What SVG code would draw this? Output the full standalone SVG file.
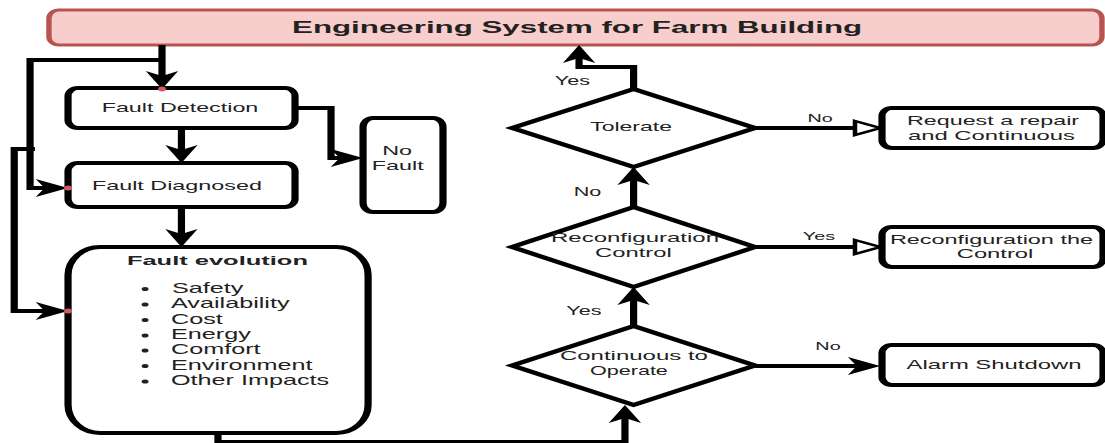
<svg xmlns="http://www.w3.org/2000/svg" width="1105" height="443" viewBox="0 0 1105 443">
  <defs>
    <!-- filled arrowhead with a notch; tip sits 6 units past the path end -->
    <marker id="classic" markerUnits="userSpaceOnUse" markerWidth="18" markerHeight="18" refX="12" refY="9" orient="auto" overflow="visible">
      <path d="M0,0 L18,9 L0,18 L5,9 Z" fill="#000"/>
    </marker>
    <!-- hollow triangle arrowhead; its base sits on the path end -->
    <marker id="block" markerUnits="userSpaceOnUse" markerWidth="16" markerHeight="16" refX="1" refY="8" orient="auto" overflow="visible">
      <path d="M1,1 L15,8 L1,15 Z" fill="#fff" stroke="#000" stroke-width="2.5"/>
    </marker>
  </defs>
  <style>
    .box{fill:#fff;stroke:#000;stroke-width:4}
    .title-box{fill:#f8cecc;stroke:#b85450;stroke-width:3}
    .edge{fill:none;stroke:#000;stroke-width:4;stroke-linejoin:miter}
    .arrow{marker-end:url(#classic)}
    .open{marker-end:url(#block)}
    .dot{fill:#cd5c5c}
    text{font-family:"Liberation Sans",Arial,sans-serif;fill:#222}
    .c{text-anchor:middle}
    .n{font-size:13px}
    .b{font-weight:bold}
    .li{font-size:14px}
    .lbl{font-size:12px;text-anchor:middle}
    .lbl-s{font-size:11px;text-anchor:middle}
  </style>
  <rect width="1105" height="443" fill="#fff"/>
  <!-- the whole chart is drawn 1.8x wider than it is tall -->
  <g transform="scale(1.8,1)">
    <g id="title">
      <rect class="title-box" x="27.2" y="10" width="585" height="35" rx="5.5" ry="8"/>
      <text class="c b" x="320.6" y="33" font-size="17" textLength="316.7" lengthAdjust="spacingAndGlyphs">Engineering System for Farm Building</text>
    </g>

    <g id="fault-detection">
      <rect class="box" x="37.8" y="88" width="126.1" height="40" rx="5.5" ry="8"/>
      <text class="c n" x="100" y="112.5" textLength="87" lengthAdjust="spacingAndGlyphs">Fault Detection</text>
    </g>

    <g id="fault-diagnosed">
      <rect class="box" x="37.8" y="163" width="126.1" height="44" rx="5.5" ry="8"/>
      <text class="c n" x="98.3" y="190" textLength="94.4" lengthAdjust="spacingAndGlyphs">Fault Diagnosed</text>
    </g>

    <g id="no-fault">
      <rect class="box" x="201.7" y="118" width="44.4" height="94" rx="5.5" ry="9"/>
      <text class="c n" x="220.6" y="155">No</text>
      <text class="c n" x="221" y="170">Fault</text>
    </g>

    <g id="fault-evolution">
      <rect class="box" x="37.8" y="247" width="166.7" height="186" rx="17.8" ry="28"/>
      <text class="c b n" x="120.8" y="265" textLength="100.6" lengthAdjust="spacingAndGlyphs">Fault evolution</text>
      <g fill="#222">
        <ellipse cx="80.6" cy="289" rx="1.9" ry="2.1"/>
        <ellipse cx="80.6" cy="304.5" rx="1.9" ry="2.1"/>
        <ellipse cx="80.6" cy="320" rx="1.9" ry="2.1"/>
        <ellipse cx="80.6" cy="335.5" rx="1.9" ry="2.1"/>
        <ellipse cx="80.6" cy="350.5" rx="1.9" ry="2.1"/>
        <ellipse cx="80.6" cy="366" rx="1.9" ry="2.1"/>
        <ellipse cx="80.6" cy="381.5" rx="1.9" ry="2.1"/>
      </g>
      <text class="li" x="95.5" y="293">Safety</text>
      <text class="li" x="95" y="308.5">Availability</text>
      <text class="li" x="95" y="324">Cost</text>
      <text class="li" x="95" y="339.5">Energy</text>
      <text class="li" x="95" y="354.5">Comfort</text>
      <text class="li" x="95" y="370">Environment</text>
      <text class="li" x="95" y="385.5">Other Impacts</text>
    </g>

    <g id="tolerate">
      <polygon class="box" points="352,89 419.5,128 352,167 284.5,128"/>
      <text class="c n" x="350.6" y="130.7" textLength="45.4" lengthAdjust="spacingAndGlyphs">Tolerate</text>
    </g>

    <g id="reconfiguration-control">
      <polygon class="box" points="352,207 419.5,247 352,287 284.5,247"/>
      <text class="c n" x="352.8" y="241.7" textLength="93.3" lengthAdjust="spacingAndGlyphs">Reconfiguration</text>
      <text class="c n" x="351.9" y="256.7" textLength="42.6" lengthAdjust="spacingAndGlyphs">Control</text>
    </g>

    <g id="continuous-to-operate">
      <polygon class="box" points="352,326 419.5,365.5 352,405 284.5,365.5"/>
      <text class="c n" x="352.2" y="360" textLength="82.2" lengthAdjust="spacingAndGlyphs">Continuous to</text>
      <text class="c n" x="349.4" y="375" textLength="43.3" lengthAdjust="spacingAndGlyphs">Operate</text>
    </g>

    <g id="request-repair">
      <rect class="box" x="490" y="108" width="122.8" height="40" rx="5.5" ry="8"/>
      <text class="c n" x="551.7" y="125" textLength="95.6" lengthAdjust="spacingAndGlyphs">Request a repair</text>
      <text class="c n" x="550.8" y="140" textLength="92.8" lengthAdjust="spacingAndGlyphs">and Continuous</text>
    </g>

    <g id="reconfigure-control">
      <rect class="box" x="490" y="227" width="122.8" height="40" rx="5.5" ry="8"/>
      <text class="c n" x="550.8" y="244" textLength="112.8" lengthAdjust="spacingAndGlyphs">Reconfiguration the</text>
      <text class="c n" x="552.8" y="258" textLength="42.6" lengthAdjust="spacingAndGlyphs">Control</text>
    </g>

    <g id="alarm-shutdown">
      <rect class="box" x="490" y="345" width="122.8" height="40" rx="5.5" ry="8"/>
      <text class="c n" x="552.2" y="369" textLength="97.2" lengthAdjust="spacingAndGlyphs">Alarm Shutdown</text>
    </g>

    <g id="connectors">
      <path class="edge arrow" d="M90,45 V83"/>
      <path class="edge arrow" d="M90,60 H16.7 V188 H31.8"/>
      <path class="edge arrow" d="M19.4,149 H7.9 V311 H31.8"/>
      <path class="edge arrow" d="M100.8,128 V157"/>
      <path class="edge arrow" d="M100.8,207 V241"/>
      <path class="edge arrow" d="M163.9,108 H183.9 V158 H195.7"/>
      <path class="edge arrow" d="M121.1,433 V442 H347.2 V411"/>
      <path class="edge arrow" d="M352,326 V293"/>
      <path class="edge arrow" d="M352,207 V173"/>
      <path class="edge arrow" d="M352,89 V67 H321.7 V51"/>
      <path class="edge open" d="M419.5,128 H475"/>
      <path class="edge open" d="M419.5,247 H475"/>
      <path class="edge arrow" d="M419.5,366 H483"/>

      <text class="lbl" x="318" y="85">Yes</text>
      <text class="lbl" x="326.4" y="196">No</text>
      <text class="lbl" x="324.4" y="315">Yes</text>
      <text class="lbl-s" x="455.6" y="122">No</text>
      <text class="lbl-s" x="455" y="240">Yes</text>
      <text class="lbl-s" x="460" y="350">No</text>

      <!-- connection points -->
      <ellipse class="dot" cx="90" cy="89" rx="2.2" ry="2.5"/>
      <ellipse class="dot" cx="37.8" cy="188" rx="2.2" ry="2.5"/>
      <ellipse class="dot" cx="37.8" cy="311" rx="2.2" ry="2.5"/>
    </g>
  </g>
</svg>
